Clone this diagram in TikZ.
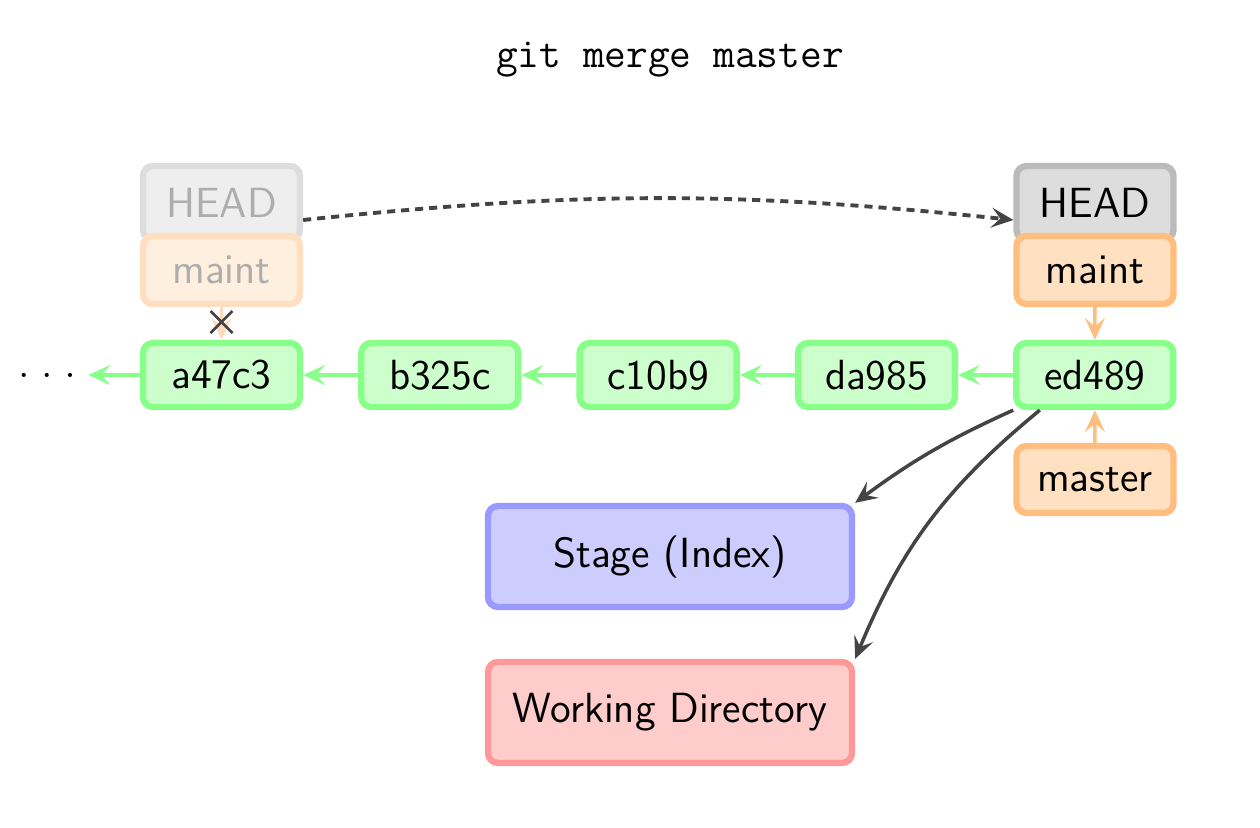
\documentclass[tikz,border=0pt]{standalone}
\usetikzlibrary{positioning,arrows.meta}

\definecolor{commitline}{RGB}{136,255,136}
\definecolor{commitfill}{RGB}{204,255,204}
\definecolor{branchline}{RGB}{255,190,128}
\definecolor{branchfill}{RGB}{255,224,192}
\definecolor{headline}{RGB}{187,187,187}
\definecolor{headfill}{RGB}{221,221,221}
\definecolor{stageline}{RGB}{153,153,255}
\definecolor{stagefill}{RGB}{204,204,255}
\definecolor{wdline}{RGB}{255,153,153}
\definecolor{wdfill}{RGB}{255,204,204}
\definecolor{arrowgray}{RGB}{68,68,68}

\tikzset{
    box/.style={rounded corners=0.1cm, line width=1.8pt, align=center,
        font=\fontsize{12}{14}\selectfont\sffamily},
    commit/.style={box, draw=commitline, fill=commitfill, minimum width=1.57cm, minimum height=0.64cm},
    branch/.style={box, draw=branchline, fill=branchfill, minimum width=1.57cm, minimum height=0.68cm},
    headbox/.style={box, draw=headline, fill=headfill, minimum width=1.57cm, minimum height=0.74cm},
    area/.style={box, minimum width=3.64cm, minimum height=1.01cm},
    tip/.style={-{Stealth[length=2.2mm, width=2mm, inset=0.9mm]}},
    parent/.style={tip, commitline, line width=1pt},
    pointer/.style={tip, branchline, line width=1pt},
    update/.style={tip, arrowgray, line width=1pt},
}

\begin{document}
\begin{tikzpicture}[]
    \useasboundingbox (0,0) rectangle (12.6,-8.28);

    \node [font=\fontsize{12}{14}\selectfont\ttfamily] (title) at (6.70,-0.60) {git merge master};

    \node [commit] (a) at (2.215,-3.75) {a47c3};
    \node [commit, right=0.55cm of a] (b) {b325c};
    \node [commit, right=0.55cm of b] (c) {c10b9};
    \node [commit, right=0.55cm of c] (d) {da985};
    \node [commit, right=0.55cm of d] (e) {ed489};
    \node [font=\fontsize{12}{14}\selectfont] (dots) at (0.47,-3.75) {$.\;.\;.$};

    \node [headbox, draw=headline!50, fill=headfill!50, text=black!32] (oldhead) at (2.215,-2.03) {HEAD};
    \node [branch, draw=branchline!50, fill=branchfill!50, text=black!32] (oldmaint) at (2.215,-2.70) {maint};

    \node [headbox] (head) at (10.95,-2.03) {HEAD};
    \node [branch] (maint) at (10.95,-2.70) {maint};
    \node [branch, minimum height=0.67cm] (master) at (10.95,-4.795) {master};

    \node [area, draw=stageline, fill=stagefill] (stage) at (6.70,-5.565) {Stage (Index)};
    \node [area, draw=wdline, fill=wdfill] (wd) at (6.70,-7.125) {Working Directory};

    \draw [parent] (a) -- (dots);
    \draw [parent] (b) -- (a);
    \draw [parent] (c) -- (b);
    \draw [parent] (d) -- (c);
    \draw [parent] (e) -- (d);

    \draw [pointer] (maint) -- (e);
    \draw [pointer] (master) -- (e);
    \draw [pointer, branchline!55] (oldmaint) -- (a);
    %\node at (2.215,-3.22) {};
    \draw [arrowgray, line width=0.8pt] (2.215,-3.22) +(-0.11,-0.11) -- +(0.11,0.11)
        +(-0.11,0.11) -- +(0.11,-0.11);

    \draw [update, line width=1.1pt, dash pattern=on 2.3pt off 1.7pt] ([yshift=-0.17cm]oldhead.east) to [bend left=6] ([yshift=-0.17cm]head.west);
    \draw [update] (e.south west) to [bend right=6] (stage.north east);
    \draw [update] ([xshift=-0.55cm]e.south) to [bend right=14] (wd.north east);
\end{tikzpicture}
\end{document}
